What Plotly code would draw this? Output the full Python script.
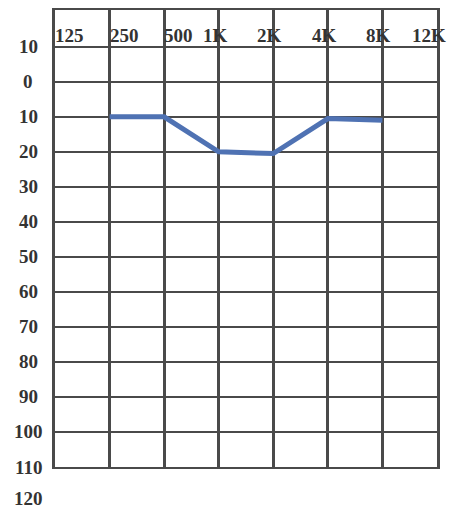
import plotly.graph_objects as go

freq_labels = ["125", "250", "500", "1K", "2K", "4K", "8K", "12K"]
test_freqs = ["250", "500", "1K", "2K", "4K", "8K"]
thresholds = [10, 10, 20, 20.5, 10.5, 11]
db_ticks = list(range(-10, 111, 10))
db_ticktext = [str(abs(v)) for v in db_ticks]
extra_label = "120"

pos = {f: i for i, f in enumerate(freq_labels)}
xs = [pos[f] for f in test_freqs]

grid_col = "#4a4a4a"
text_col = "#333333"
font_fam = "Liberation Serif"

H = 503
m_l, m_t, m_b = 47, 0, 44
plot_h = H - m_t - m_b
y_top, y_bot = -20.5, 110
px_per_db = plot_h / (y_bot - y_top)

fig = go.Figure()
fig.add_trace(go.Scatter(
    x=xs, y=thresholds, mode="lines",
    line=dict(color="#4f72b3", width=5),
    showlegend=False, hoverinfo="skip",
))

annotations = []
for i, f in enumerate(freq_labels):
    is_k = f.endswith("K")
    annotations.append(dict(
        x=i, y=-10, xref="x", yref="y", text=f"<b>{f}</b>",
        showarrow=False, yanchor="bottom",
        xanchor="right" if is_k else "left",
        xshift=11 if is_k else -2, yshift=-1,
        font=dict(family=font_fam, size=19, color=text_col),
    ))

lab_x_shift = -27  # centre of y labels relative to plot left edge
for v, t in zip(db_ticks, db_ticktext):
    annotations.append(dict(
        x=0, y=v, xref="paper", yref="y", text=f"<b>{t}</b>",
        showarrow=False, xanchor="center", yanchor="middle", xshift=lab_x_shift,
        font=dict(family=font_fam, size=19, color=text_col),
    ))
annotations.append(dict(
    x=0, y=-(120 - y_bot) * px_per_db / plot_h, xref="paper", yref="paper",
    text=f"<b>{extra_label}</b>",
    showarrow=False, xanchor="center", xshift=lab_x_shift, yanchor="middle",
    yshift=4,
    font=dict(family=font_fam, size=19, color=text_col),
))

fig.update_layout(
    width=453, height=H,
    margin=dict(l=m_l, r=24, t=m_t, b=m_b),
    paper_bgcolor="white", plot_bgcolor="white",
    annotations=annotations,
    xaxis=dict(
        range=[0, 7], tickvals=list(range(len(freq_labels))),
        showticklabels=False, showgrid=True, gridcolor=grid_col, gridwidth=2.5,
        showline=True, linecolor=grid_col, linewidth=2, mirror=True,
        zeroline=False, ticks="",
    ),
    yaxis=dict(
        range=[y_bot, y_top], tickvals=db_ticks, showticklabels=False,
        showgrid=True, gridcolor=grid_col, gridwidth=2,
        showline=True, linecolor=grid_col, linewidth=3, mirror=True,
        zeroline=False, ticks="",
    ),
)

fig.write_html("out.html")
